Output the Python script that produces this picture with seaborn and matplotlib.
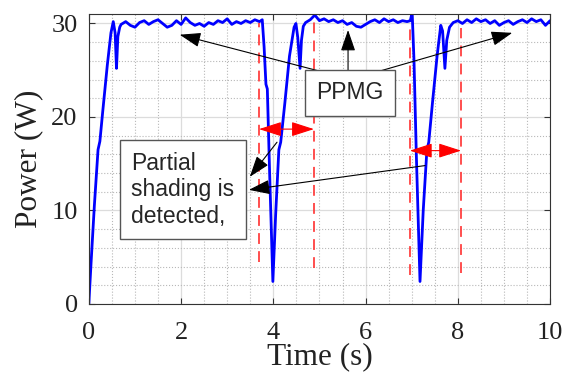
import seaborn as sns
import matplotlib.pyplot as plt
from matplotlib.ticker import MultipleLocator

# blue power trace, one line per segment (rise / plateau / drop+rise / ...)
time_s = [0.00, 0.05, 0.12, 0.20, 0.24, 0.30, 0.40, 0.48, 0.53, 0.57, 0.60, 0.63, 0.67,
          0.70, 0.80, 0.90, 1.00, 1.10, 1.20, 1.30, 1.40, 1.50, 1.60,
          1.70, 1.80, 1.90, 2.00, 2.10, 2.20, 2.30, 2.40, 2.50, 2.60,
          2.70, 2.80, 2.90, 3.00, 3.10, 3.20, 3.30, 3.40, 3.50, 3.60, 3.70, 3.76,
          3.80, 3.84, 3.87, 3.92, 3.99, 4.05, 4.12, 4.16, 4.25, 4.35, 4.45, 4.49, 4.53, 4.58, 4.61, 4.65,
          4.70, 4.80, 4.90, 5.00, 5.10, 5.20, 5.30, 5.40, 5.50, 5.60,
          5.70, 5.80, 5.90, 6.00, 6.10, 6.20, 6.30, 6.40, 6.50, 6.60,
          6.70, 6.80, 6.90, 6.97, 7.01,
          7.05, 7.10, 7.18, 7.25, 7.33, 7.37, 7.45, 7.55, 7.63, 7.67, 7.72, 7.76, 7.82, 7.90,
          8.00, 8.10, 8.20, 8.30, 8.40, 8.50, 8.60, 8.70, 8.80, 8.90,
          9.00, 9.10, 9.20, 9.30, 9.40, 9.50, 9.60, 9.70, 9.80, 9.90, 10.00]
power_w = [0.0, 4.5, 10.5, 16.5, 17.4, 20.5, 25.5, 29.0, 30.2, 29.0, 25.2, 28.6, 29.6,
           29.9, 30.2, 29.8, 29.6, 30.1, 30.3, 29.9, 30.2, 30.4, 30.0,
           29.6, 29.8, 30.3, 29.9, 30.6, 30.1, 29.8, 30.0, 29.7, 30.1,
           29.9, 30.3, 30.1, 30.5, 29.9, 30.2, 30.0, 30.3, 30.1, 30.4, 30.2, 30.4,
           27.5, 23.5, 23.0, 14.0, 2.4, 9.5, 16.5, 17.3, 21.5, 26.5, 29.6, 30.0, 28.5, 25.2, 28.2, 29.7,
           30.1, 30.4, 30.9, 30.3, 30.5, 30.2, 30.4, 30.1, 30.3, 29.9,
           30.1, 29.7, 29.6, 29.9, 30.2, 30.4, 30.1, 30.5, 30.2, 30.4,
           30.1, 30.3, 30.2, 30.3, 31.2,
           26.0, 16.0, 2.4, 10.0, 16.5, 17.3, 21.5, 26.5, 29.8, 29.2, 25.2, 28.2, 29.6, 30.1,
           30.3, 30.0, 30.4, 30.1, 30.5, 30.2, 30.4, 30.0, 30.3, 29.8,
           30.1, 30.3, 29.9, 30.2, 30.4, 30.1, 30.5, 30.2, 30.4, 29.8, 30.3]

# red dashed markers (shading detected / recovered)
mark_t = [3.69, 4.88, 6.96, 8.07]
mark_lo = [4.5, 3.8, 3.1, 3.3]
mark_hi = [30.0, 30.5, 29.6, 29.5]

# red double arrows: (start, end, level)
span_t0 = [3.69, 6.96]
span_t1 = [4.88, 8.07]
span_p = [18.7, 16.4]

sns.set_style('ticks')
plt.rcParams['font.family'] = ['Liberation Serif', 'DejaVu Serif']

fig = plt.figure(figsize=(5.73, 3.72), dpi=100)
ax = fig.add_axes([0.155, 0.183, 0.805, 0.779])

ax.set_axisbelow(True)
ax.grid(which='major', color='#dcdcdc', lw=0.9, ls='-')
ax.grid(which='minor', color='#b8b8b8', lw=0.8, ls=':')

sns.lineplot(x=time_s, y=power_w, color='#0000ff', lw=2, estimator=None, ax=ax)

for t, lo, hi in zip(mark_t, mark_lo, mark_hi):
    ax.plot([t, t], [lo, hi], color='#ff4040', lw=1.3, ls=(0, (6, 4)))

for t0, t1, p in zip(span_t0, span_t1, span_p):
    ax.annotate('', xy=(t0, p), xytext=(t1, p),
                arrowprops=dict(arrowstyle='<|-|>,head_length=1.4,head_width=0.45',
                                color='red', lw=0.8, shrinkA=0, shrinkB=0))

box = dict(boxstyle='square,pad=0.5', fc='white', ec='#555555', lw=1)
sans = ['Liberation Sans', 'DejaVu Sans']

ax.text(5.66, 22.6, 'PPMG', fontsize=16.5, family=sans, ha='center', va='center', bbox=box, zorder=5)
ax.text(2.04, 12.2, 'Partial\nshading is\ndetected,', fontsize=16.5, family=sans,
        ha='center', va='center', multialignment='left', linespacing=1.2, bbox=box, zorder=5)

black = dict(arrowstyle='-|>,head_length=1.3,head_width=0.45', color='black', lw=0.8,
             shrinkA=0, shrinkB=0)
ax.annotate('', xy=(5.62, 29.3), xytext=(5.62, 24.6), arrowprops=black)
ax.annotate('', xy=(1.97, 28.8), xytext=(5.16, 24.7), arrowprops=black)
ax.annotate('', xy=(9.18, 29.0), xytext=(6.16, 24.7), arrowprops=black)
ax.annotate('', xy=(3.49, 13.6), xytext=(4.08, 17.3), arrowprops=black)
ax.annotate('', xy=(3.47, 12.2), xytext=(7.29, 14.8), arrowprops=black)

ax.set_xlim(0, 10)
ax.set_ylim(0, 31)
ax.set_xticks([0, 2, 4, 6, 8, 10])
ax.set_yticks([0, 10, 20, 30])
ax.xaxis.set_minor_locator(MultipleLocator(0.5))
ax.yaxis.set_minor_locator(MultipleLocator(2))
ax.tick_params(which='both', direction='in', top=True, right=True, labelsize=19,
               colors='#333333', labelcolor='#222222')
ax.tick_params(which='minor', length=0)
ax.tick_params(which='major', length=4)
ax.tick_params(axis='x', which='major', pad=13)
ax.tick_params(axis='y', which='major', pad=8)
for s in ax.spines.values():
    s.set_color('#333333')

ax.set_xlabel('Time (s)', fontsize=22.5, labelpad=-1, color='#222222')
ax.set_ylabel('Power (W)', fontsize=22.5, labelpad=6, color='#222222')

fig.savefig('out.png', dpi=100)
